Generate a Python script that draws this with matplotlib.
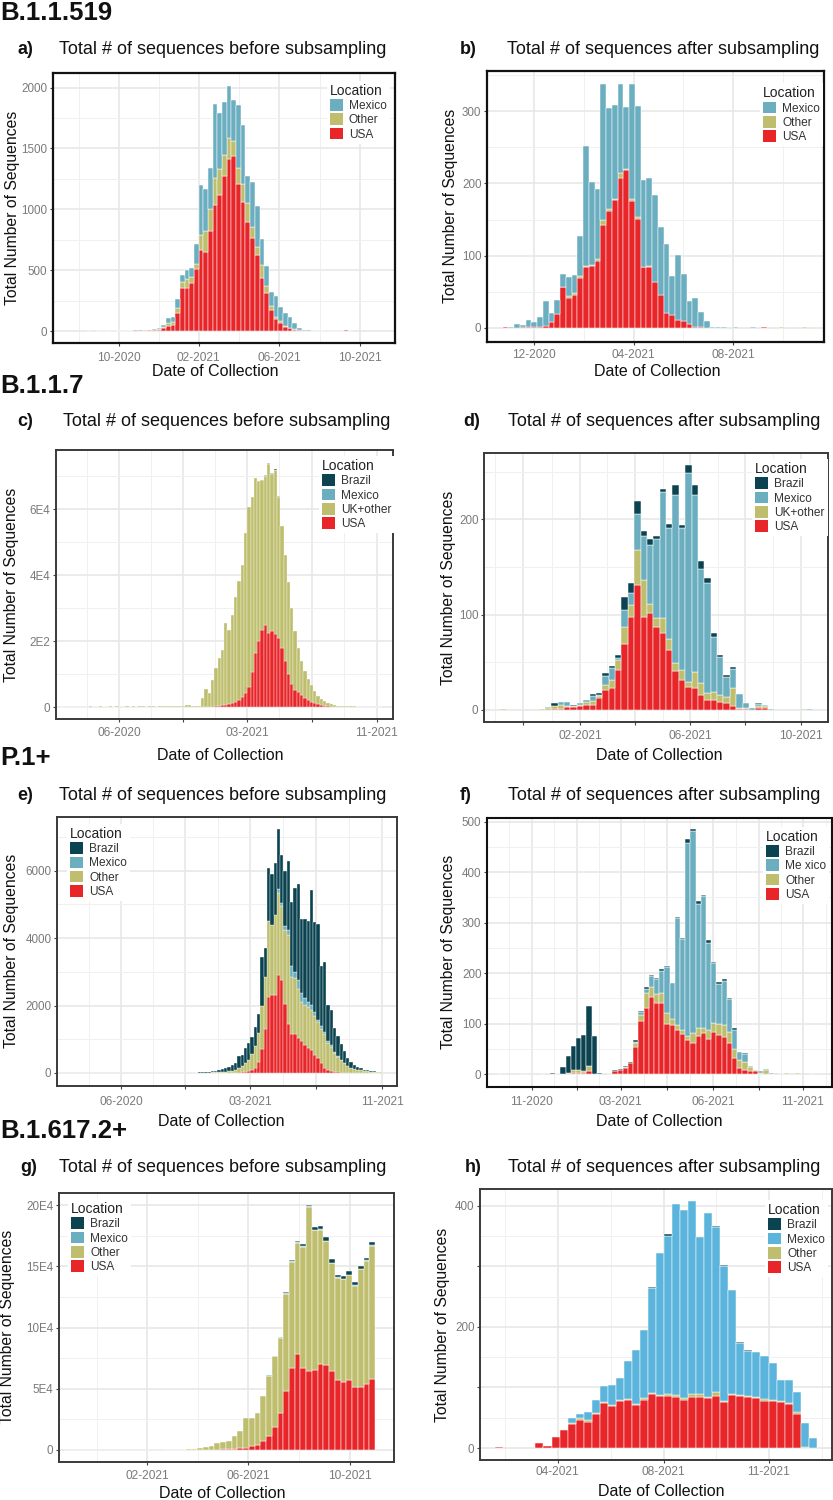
import numpy as np
import matplotlib
matplotlib.use("Agg")
import matplotlib.pyplot as plt
from matplotlib.patches import Patch

plt.rcParams['font.family'] = ['Liberation Sans', 'DejaVu Sans']

# ---------------- DATA (weekly bins, counts per location) ----------------
# Panel a: B.1.1.519 before subsampling
usa_a = [1,0,1,0,1,0,1,1,2,2, 6,3,4,6,8,12,25,41,50,145, 351,351,392,508,667,647,818,1037,1119,1270,
         1413,1435,1210,1064,892,763,626,439,315,173, 96,69,36,22,12,5,2,2,1,1, 1,0,0,1,1,12,1]
other_a = [0,0,0,0,0,0,0,0,0,0, 1,1,1,2,2,3,5,22,27,41, 55,74,55,41,123,179,183,220,212,178,
           173,129,129,143,164,96,68,104,55,33, 16,10,5,3,2,1,1,0,0,0, 0,0,1,0,0,0,0]
mexico_a = [1,0,1,1,1,1,1,1,1,2, 1,2,3,4,5,7,20,41,35,74, 55,77,69,167,409,340,338,611,460,437,
            425,332,521,488,220,365,335,211,168,118, 176,121,104,87,49,16,7,4,3,2, 1,2,1,1,1,0,1]

# Panel b: B.1.1.519 after subsampling
usa_b = [1,0,0,2,1,1,2,3,8,19, 56,42,46,69,84,86,92,143,162,177, 207,218,175,151,84,85,63,45,21,18,
         11,9,6,2,2,0,0,0,0,0, 0,0,0,0,0,2,0,0,0,0, 0,0,0]
other_b = [0,0,0,0,0,0,0,0,0,0, 1,2,3,3,2,1,4,6,2,1, 7,2,3,2,1,1,0,0,0,0,
           0,0,0,0,0,0,0,0,0,0, 0,0,0,0,0,0,0,0,1,0, 0,0,1]
mexico_b = [0,1,6,2,10,7,13,35,13,20, 18,27,24,55,166,115,96,188,141,131, 123,86,159,154,120,122,121,94,95,54,
            90,66,32,40,20,9,2,2,1,0, 1,0,0,1,0,0,0,0,0,0, 0,0,0]

# Panel c: B.1.1.7 before subsampling
total_c = [150,100,150,100,150,150,100,150,150,200, 150,150,200,150,150,200,150,200,150,150,
           200,150,200,150,200,200,150,200,200,150, 200,200,250,200,250,300,300,400,
           500,500,400,300,300,2700,5600,4100,8200,11700, 14800,17300,25600,23300,27900,33400,38300,43000,52600,60700,
           63700,69300,68600,68800,70300,74000,71000,72000,64000,55000, 46000,38000,30000,23000,18000,14000,11000,8600,6600,4800,
           3400,2400,1700,1100,800,600,450,350,300,250, 200,200,150,150,100,100,100,80,60,50]
usa_c = [30,20,30,20,30,30,20,30,30,40, 30,30,40,30,30,40,30,40,30,30,
         40,30,40,30,40,40,30,40,40,30, 40,40,50,40,50,60,60,80,
         100,100,80,60,60,100,120,120,150,200, 300,500,600,800,1100,1500,2200,3100,4100,6000,
         10700,16300,20100,23300,24800,22500,23000,22000,21000,18000, 14000,10000,7000,5200,4500,3600,2800,2200,1600,1200,
         800,500,300,200,100,80,60,50,40,30, 30,30,20,20,20,20,20,10,10,10]
mexico_c = [0]*60 + [150,150,150,150,150,150,150] + [0]*31
brazil_c = [0]*62 + [100,100,100,100,100] + [0]*31

# Panel d: B.1.1.7 after subsampling
brazil_d = [0,0,0,0,0,0,0,0,3,0, 0,1,0,0,2,2,3,2,3,14, 10,13,5,6,4,3,4,10,3,8,
            10,8,5,4,2,2,2,0,0,0, 1,0,0,0,0,0,0,0,0]
mexico_d = [0,0,0,0,0,0,0,1,0,3, 4,0,2,3,6,1,10,13,3,18, 13,38,47,62,82,132,116,177,149,220,
            186,120,115,58,40,21,20,15,5,2, 2,1,1,0,0,0,0,0,1]
other_d = [1,0,0,0,0,0,1,2,3,4, 1,1,1,3,4,2,5,8,10,18, 12,37,38,9,10,16,12,8,11,5,
           17,12,8,9,8,7,19,1,1,0, 2,2,0,0,0,0,0,1,0]
usa_d = [0,0,0,0,0,0,0,0,1,1, 3,3,4,5,5,13,21,23,42,69, 98,131,98,102,87,81,63,41,31,24,
         23,16,10,10,8,7,4,1,1,0, 2,2,0,0,0,0,0,0,0]

# Panel e: P.1+ before subsampling
usa_e = [0]*47 + [3,5,5,5,8,10,10,10,20,40, 60,100,150,320,700,1300,2250,2320,2320,2900,
                  2770,2050,1460,1150,1150,1040,940,820,740,690, 540,440,300,150,100,60,40,20,10] + [0]*12
other_e = [3,4,3,5,4,3,5,4,4,5, 3,4,5,4,3,5,4,4,5,3, 4,5,4,3,5,4,4,5,3,4, 5,4,3,5,4,4,5,3,4,5, 4,
           5,5,8,10,12,15,17,20,25,35, 42,60,80,140,180,260,340,450,650,880,
           1300,1550,2250,2080,2380,2450,2180,2200,2640,1710, 1660,1460,1180,1200,1230,1180,1160,1060,1000,1000,
           800,720,560,460,370,300,220,160,130,100, 80,60,50,40,35,30,25]
mexico_e = [0]*66 + [100,100,120,150,300,200,250,250,200,150, 150,100,80,100,80,50,40,30,20,15,10] + [0]*11
brazil_e = [0]*41 + [5,10,12,20,28,35,50,65,80,100, 120,170,200,350,335,450,500,510,560,550,
                     1450,850,1580,1510,1530,1790,1430,1610,2050,1900, 2480,2850,2190,2340,2380,3420,2670,2850,1760,2060,
                     1080,1060,700,590,475,330,220,160,120,80, 70,40,30,20,15,10,5]

# Panel f: P.1+ after subsampling
brazil_f = [0,0,0,0,1,1,0,0,1,0, 3,1,13,34,48,63,72,120,74,1, 0,0,3,2,3,2,4,3,4,3,
            2,2,3,0,2,2,8,3,6,3, 5,2,4,3,1,4,0,1,0,0, 0,0,0,0,0,0,0,0,0,0, 0]
mexico_f = [1,0,0,0,0,0,0,0,0,0, 0,0,0,0,0,0,0,0,0,0, 0,0,0,0,0,0,2,5,8,22,
            30,45,91,73,211,181,382,400,245,260, 172,118,78,87,65,39,16,16,3,1, 3,2,2,1,1,0,0,0,0,0, 1]
other_f = [0,0,0,0,0,0,0,0,0,0, 0,0,0,2,6,6,3,10,1,1, 0,1,0,0,2,0,8,12,30,19,
           19,19,20,11,10,7,8,21,17,11, 18,19,23,24,22,18,17,16,8,2, 2,7,1,2,0,2,0,2,0,0, 0]
usa_f = [0,0,0,0,0,0,0,0,0,0, 0,0,0,0,2,2,2,5,0,0, 0,0,5,7,11,22,53,105,130,153,
         140,141,100,97,87,80,67,61,75,81, 70,83,77,74,62,31,11,8,5,5, 1,0,0,0,0,0,0,0,0,0, 0]

# Panel g: B.1.617.2+ before subsampling
usa_g = [0,0,0,0,0,0,0,0,0,0, 0,0,0,0,0,0,0,50,50,50, 50,80,100,150,200,300,400,500,700,1000,
         1500,2000,3000,4000,7000,11400,19000,30500,48000,66700, 78000,66700,64800,65300,69900,69400,64800,57100,55800,57100,
         51700,51700,53600,57700]
other_g = [100,100,150,150,200,200,200,250,250,300, 300,300,400,400,300,300,300,250,350,350,
           350,420,700,1750,2500,3200,5000,6000,6900,10400, 14300,24000,23400,26500,37000,49300,57400,61300,79600,87000,
           91000,99300,133500,114100,110000,101000,87700,83400,83700,85400, 82300,95800,100900,108800]
mexico_g = [0]*35 + [300,300,400,600,500, 500,500,500,600,600,600,500,500,500,500, 500,500,500,500]
brazil_g = [0]*36 + [300,300,800,800, 1500,1500,1200,2000,2500,3000,3000,2000,2000,3000, 2500,2000,2000,3000]

# Panel h: B.1.617.2+ after subsampling
usa_h = [1,0,0,0,0,8,3,19,30,39, 47,43,56,74,69,78,79,71,80,89, 86,86,84,80,84,84,82,86,76,87,
         86,84,82,78,77,76,72,57,0,0]
other_h = [0,0,0,0,0,0,0,0,0,2, 2,3,2,2,2,1,2,2,2,2, 2,3,3,3,5,6,3,6,2,2, 2,2,2,3,3,2,2,2,2,0]
mexico_h = [0,0,0,0,0,0,0,0,0,8, 8,14,21,26,33,36,63,89,113,173, 235,262,316,311,319,259,303,273,222,172,
            86,74,75,71,60,35,38,34,39,17]
brazil_h = [0,0,0,0,0,0,0,0,0,0, 0,0,0,0,0,0,0,0,0,2, 0,2,0,0,0,0,0,2,2,0, 2,2,0,0,0,0,0,0,0,0]

uk_c = [t - u - m - b for t, u, m, b in zip(total_c, usa_c, mexico_c, brazil_c)]

# tick labels
xlab_a = ['10-2020', '02-2021', '06-2021', '10-2021']
xlab_b = ['12-2020', '04-2021', '08-2021']
xlab_c = ['06-2020', '', '03-2021', '', '11-2021']
xlab_d = ['', '02-2021', '', '06-2021', '', '10-2021']
xlab_e = ['06-2020', '', '03-2021', '', '11-2021']
xlab_f = ['11-2020', '', '03-2021', '', '06-2021', '', '11-2021']
xlab_g = ['02-2021', '06-2021', '10-2021']
xlab_h = ['04-2021', '08-2021', '11-2021']

# ---------------- STYLE ----------------
RED = '#E8262A'
KHAKI = '#BEBE6E'
TEAL = '#6AAEC0'
SKY = '#5AB4DC'
DARK = '#0B4450'

W, H = 833, 1500
fig = plt.figure(figsize=(W / 100, H / 100), dpi=100)
fig.patch.set_facecolor('white')


def fx(x):
    return x / W


def fy(y):
    return 1 - y / H


def make_ax(x0, y0, x1, y1):
    return fig.add_axes([x0 / W, 1 - y1 / H, (x1 - x0) / W, (y1 - y0) / H])


def midpoints(vals, lo, hi):
    v = list(vals)
    step = v[1] - v[0] if len(v) > 1 else 1
    out = [v[0] - step / 2] + [(a + b) / 2 for a, b in zip(v[:-1], v[1:])] + [v[-1] + step / 2]
    out = [o for o in out if lo < o < hi]
    return out


def panel(box, layers, colors, names, xlim, ylim, xt, xtl, yt, ytl, xpad, leg_xy,
          lw=0.35, spine_col='#3a3a3a', spine_w=1.4):
    ax = make_ax(*box)
    n = len(layers[0])
    x = np.arange(n)
    base = np.zeros(n)
    for vals, col in zip(layers, colors):
        v = np.asarray(vals, float)
        m = v > 0
        ax.bar(x[m], v[m], width=1.0, bottom=base[m], color=col,
               edgecolor='white', linewidth=lw, zorder=3)
        base += v
    ax.set_xlim(*xlim)
    ax.set_ylim(*ylim)
    ax.set_xticks(xt)
    ax.set_xticklabels(xtl)
    ax.set_yticks(yt)
    ax.set_yticklabels(ytl)
    ax.set_xticks(midpoints(xt, xlim[0], xlim[1]), minor=True)
    ax.set_yticks(midpoints(yt, ylim[0], ylim[1]), minor=True)
    ax.grid(which='major', color='#E6E6E6', linewidth=1.1, zorder=0)
    ax.grid(which='minor', color='#F0F0F0', linewidth=0.7, zorder=0)
    ax.set_axisbelow(True)
    ax.tick_params(which='minor', length=0)
    ax.tick_params(axis='x', which='major', length=2.5, width=0.8, color='#444444',
                   pad=xpad, labelsize=8.6, labelcolor='#7a7a7a')
    ax.tick_params(axis='y', which='major', length=2.5, width=0.8, color='#444444',
                   pad=1.5, labelsize=8.4, labelcolor='#7a7a7a')
    for s in ax.spines.values():
        s.set_color(spine_col)
        s.set_linewidth(spine_w)
    handles = [Patch(facecolor=c, edgecolor='none') for c in colors[::-1]]
    leg = ax.legend(handles, names[::-1], title='Location', loc='upper left',
                    bbox_to_anchor=leg_xy, fontsize=8.6, title_fontsize=10.0,
                    frameon=True, fancybox=False, edgecolor='none', facecolor='white',
                    framealpha=1.0, handlelength=1.1, handleheight=1.1,
                    handletextpad=0.5, labelspacing=0.13, borderpad=0.25,
                    borderaxespad=0.0, alignment='left')
    leg.get_title().set_color('#222222')
    for t in leg.get_texts():
        t.set_color('#333333')
    leg.set_zorder(5)
    return ax


# ---- Panel a
panel((53, 73, 395, 343), [usa_a, other_a, mexico_a], [RED, KHAKI, TEAL],
      ['USA', 'Other', 'Mexico'], (-7.7, 65.5), (-98, 2120),
      [6.36, 23.5, 40.7, 58.0], xlab_a, [0, 500, 1000, 1500, 2000],
      ['0', '500', '1000', '1500', '2000'], 4.3, (0.80, 0.972),
      spine_col='#111111', spine_w=1.6)
# ---- Panel b
panel((487, 71, 824, 342), [usa_b, other_b, mexico_b], [RED, KHAKI, TEAL],
      ['USA', 'Other', 'Mexico'], (-3.2, 55.4), (-19.4, 355.5),
      [4.9, 22.3, 39.6], xlab_b, [0, 100, 200, 300], ['0', '100', '200', '300'],
      2.3, (0.81, 0.955), spine_col='#111111', spine_w=1.6)
# ---- Panel c
panel((56, 450, 393, 719), [usa_c, uk_c, mexico_c, brazil_c], [RED, KHAKI, TEAL, DARK],
      ['USA', 'UK+other', 'Mexico', 'Brazil'], (-1.5, 100.7), (-3636, 77880),
      [17.6, 37.1, 56.5, 76.0, 95.7], xlab_c, [0, 20000, 40000, 60000],
      ['0', '2E2', '4E4', '6E4'], 3.6, (0.78, 0.978), lw=0.25)
# ---- Panel d
panel((484, 453, 828, 722), [usa_d, other_d, mexico_d, brazil_d], [RED, KHAKI, TEAL, DARK],
      ['USA', 'UK+other', 'Mexico', 'Brazil'], (-3.05, 50.9), (-12.6, 269.7),
      [3.1, 12.0, 20.6, 29.3, 37.9, 46.7], xlab_d, [0, 100, 200], ['0', '100', '200'],
      3.3, (0.78, 0.978))
# ---- Panel e
panel((57, 817, 397, 1086), [usa_e, other_e, mexico_e, brazil_e], [RED, KHAKI, TEAL, DARK],
      ['USA', 'Other', 'Mexico', 'Brazil'], (-1.1, 101.9), (-386, 7596),
      [18.3, 37.8, 57.5, 77.5, 97.4], xlab_e, [0, 2000, 4000, 6000],
      ['0', '2000', '4000', '6000'], 5.0, (0.03, 0.975), lw=0.25)
# ---- Panel f
panel((487, 818, 832, 1087), [usa_f, other_f, mexico_f, brazil_f], [RED, KHAKI, TEAL, DARK],
      ['USA', 'Other', 'Me xico', 'Brazil'], (-2.6, 63.7), (-25.7, 507),
      [5.96, 14.7, 23.1, 31.9, 40.8, 49.6, 58.1], xlab_f,
      [0, 100, 200, 300, 400, 500], ['0', '100', '200', '300', '400', '500'],
      4.3, (0.80, 0.968), spine_col='#111111', spine_w=1.5)
# ---- Panel g
panel((59, 1193, 394, 1462), [usa_g, other_g, mexico_g, brazil_g], [RED, KHAKI, TEAL, DARK],
      ['USA', 'Other', 'Mexico', 'Brazil'], (-1.6, 56.8), (-9796, 209796),
      [13.8, 31.4, 49.1], xlab_g, [0, 50000, 100000, 150000, 200000],
      ['0', '5E4', '10E4', '15E4', '20E4'], 3.6, (0.027, 0.978))
# ---- Panel h
panel((480, 1189, 832, 1460), [usa_h, other_h, mexico_h, brazil_h], [RED, KHAKI, SKY, DARK],
      ['USA', 'Other', 'Mexico', 'Brazil'], (-2.4, 41.4), (-19.8, 428),
      [7.26, 20.46, 33.5], xlab_h, [0, 100, 200, 300, 400], ['0', '', '200', '', '400'],
      1.6, (0.81, 0.96))

# ---------------- TEXTS ----------------
sections = [('B.1.1.519', 20), ('B.1.1.7', 393), ('P.1+', 765), ('B.1.617.2+', 1138)]
for txt, y in sections:
    fig.text(fx(0), fy(y), txt, fontsize=18.5, fontweight='bold', va='baseline', ha='left',
             color='#111111')

titles = [('a)', 17, 59, 50, 'before'), ('b)', 460, 507, 50, 'after'),
          ('c)', 17, 63, 422, 'before'), ('d)', 463, 508, 422, 'after'),
          ('e)', 17, 59, 795, 'before'), ('f)', 460, 508, 795, 'after'),
          ('g)', 20, 59, 1167, 'before'), ('h)', 465, 508, 1167, 'after')]
for let, xl, xt_, y, kind in titles:
    fig.text(fx(xl), fy(y), let, fontsize=13.0, fontweight='bold', va='center', ha='left',
             color='#111111')
    fig.text(fx(xt_), fy(y), 'Total # of sequences %s subsampling' % kind, fontsize=13.0,
             va='center', ha='left', color='#111111')

xlabels = [(215, 372), (657, 372), (220, 755), (659, 755),
           (221, 1121), (659, 1121), (222, 1493), (661, 1492)]
for x, y in xlabels:
    fig.text(fx(x), fy(y), 'Date of Collection', fontsize=11.5, va='center', ha='center',
             color='#111111')

ylabels = [(13, 208), (450, 206), (12, 585), (448, 588),
           (12, 951), (448, 952), (8, 1327), (443, 1325)]
for x, y in ylabels:
    fig.text(fx(x), fy(y), 'Total Number of Sequences', fontsize=11.3, va='center',
             ha='center', rotation=90, color='#111111')

fig.savefig('out.png', dpi=100, facecolor='white')
